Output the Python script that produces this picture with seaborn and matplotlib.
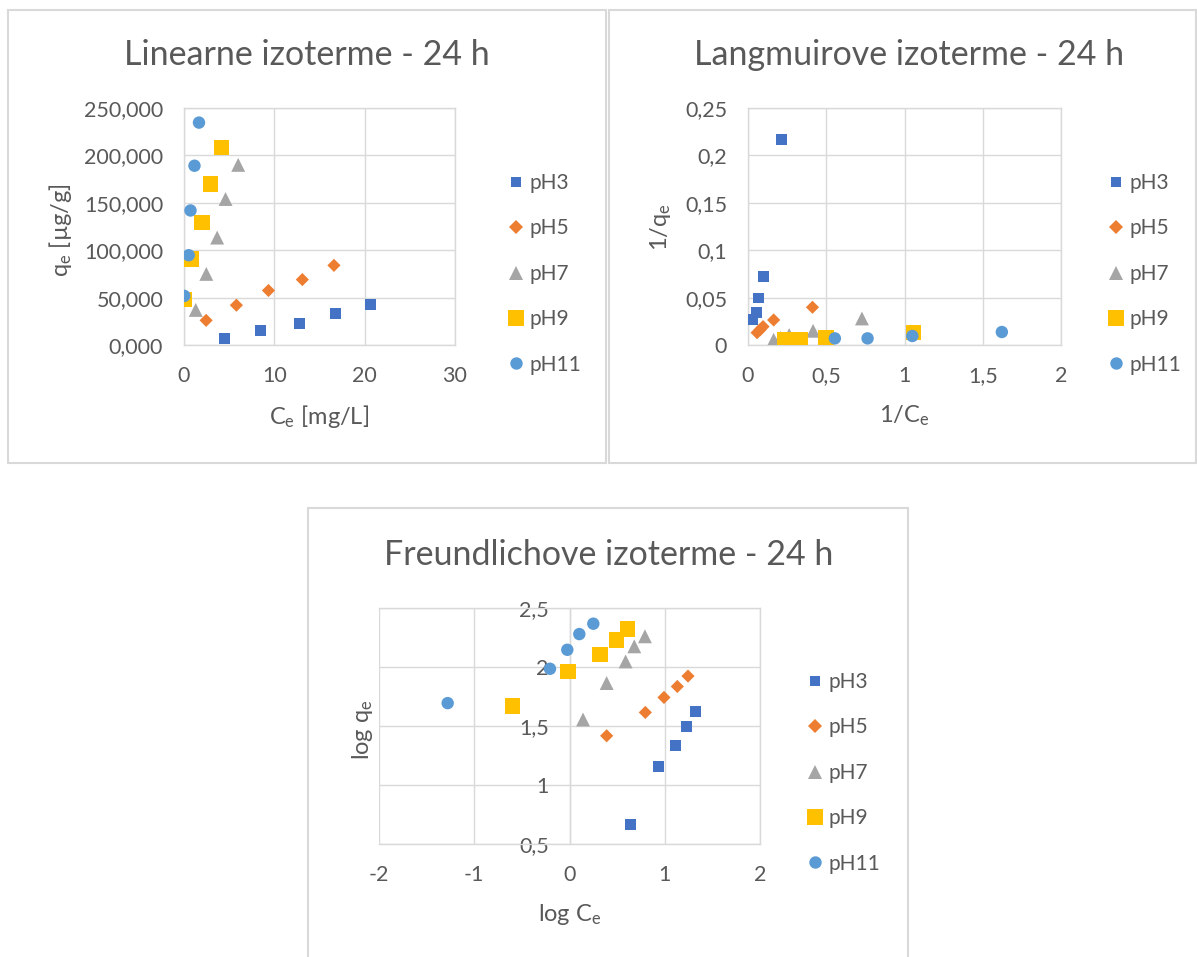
import matplotlib
matplotlib.use("Agg")
import matplotlib.pyplot as plt
import seaborn as sns
import pandas as pd
from matplotlib.lines import Line2D
from matplotlib.patches import Rectangle
from matplotlib.ticker import FuncFormatter, MultipleLocator

# ==========================================================
# Data
# ==========================================================

series = ["pH3", "pH5", "pH7", "pH9", "pH11"]

# Linearne izoterme: Ce [mg/L] vs qe [ug/g]
ce_ph3 = [4.5, 8.5, 12.8, 16.8, 20.6]
ce_ph5 = [2.45, 5.8, 9.35, 13.1, 16.6]
ce_ph7 = [1.3, 2.47, 3.67, 4.6, 6.0]
ce_ph9 = [0.08, 0.78, 2.0, 2.95, 4.13]
ce_ph11 = [0.03, 0.52, 0.72, 1.16, 1.66]
qe_ph3 = [6.5, 15.5, 22.5, 33.5, 42.7]
qe_ph5 = [26.0, 42.0, 57.5, 69.0, 84.0]
qe_ph7 = [37.0, 75.0, 113.3, 154.0, 190.0]
qe_ph9 = [48.1, 90.8, 129.4, 170.0, 208.5]
qe_ph11 = [51.8, 94.7, 141.9, 189.1, 234.6]

# Langmuirove izoterme: 1/Ce vs 1/qe
inv_ce_ph3 = [0.032, 0.053, 0.066, 0.102, 0.216]
inv_ce_ph5 = [0.058, 0.077, 0.096, 0.164, 0.412]
inv_ce_ph7 = [0.164, 0.207, 0.263, 0.416, 0.728]
inv_ce_ph9 = [0.235, 0.331, 0.497, 1.057]
inv_ce_ph11 = [0.555, 0.764, 1.05, 1.622]
inv_qe_ph3 = [0.027, 0.034, 0.0496, 0.0722, 0.2165]
inv_qe_ph5 = [0.013, 0.016, 0.0194, 0.0264, 0.0398]
inv_qe_ph7 = [0.0055, 0.0075, 0.0105, 0.015, 0.028]
inv_qe_ph9 = [0.006, 0.006, 0.0081, 0.013]
inv_qe_ph11 = [0.007, 0.007, 0.0095, 0.0137]

# Freundlichove izoterme: log Ce vs log qe
log_ce_ph3 = [0.645, 0.939, 1.117, 1.229, 1.32]
log_ce_ph5 = [0.39, 0.796, 0.992, 1.132, 1.244]
log_ce_ph7 = [0.142, 0.39, 0.589, 0.68, 0.792]
log_ce_ph9 = [-0.597, -0.016, 0.32, 0.495, 0.611]
log_ce_ph11 = [-1.279, -0.205, -0.023, 0.103, 0.25]
log_qe_ph3 = [0.664, 1.153, 1.334, 1.499, 1.623]
log_qe_ph5 = [1.417, 1.615, 1.742, 1.835, 1.923]
log_qe_ph7 = [1.555, 1.864, 2.047, 2.175, 2.26]
log_qe_ph9 = [1.671, 1.96, 2.107, 2.231, 2.322]
log_qe_ph11 = [1.694, 1.985, 2.146, 2.279, 2.367]

# ==========================================================
# Style
# ==========================================================

colors = ["#4472C4", "#ED7D31", "#A5A5A5", "#FFC000", "#5B9BD5"]
markers = ["s", "D", "^", "s", "o"]
marker_sizes = [62, 45, 100, 125, 80]

sns.set_theme(style="white")
plt.rcParams["font.family"] = ["Lato", "DejaVu Sans"]
plt.rcParams["mathtext.default"] = "regular"

text_color = "#595959"
grid_color = "#D9D9D9"
W, H = 1197, 957

fig = plt.figure(figsize=(W / 100, H / 100), dpi=100)


def px_rect(x0, y0, x1, y1):
    # figure-fraction rectangle from pixel box (top-left origin)
    return [x0 / W, 1 - y1 / H, (x1 - x0) / W, (y1 - y0) / H]


def make_frame(xs, ys):
    rows = []
    for name, xv, yv in zip(series, xs, ys):
        for a, b in zip(xv, yv):
            rows.append({"x": a, "y": b, "series": name})
    return pd.DataFrame(rows)


def comma(fmt):
    return FuncFormatter(lambda v, p: fmt.format(v).replace(".", ","))


def draw_panel(box, xs, ys, xlim, ylim, xstep, ystep, xfmt, yfmt):
    ax = fig.add_axes(px_rect(*box))
    df = make_frame(xs, ys)
    sns.scatterplot(
        data=df, x="x", y="y",
        hue="series", style="series", size="series",
        palette=dict(zip(series, colors)),
        markers=dict(zip(series, markers)),
        sizes=dict(zip(series, marker_sizes)),
        linewidth=0, legend=False, ax=ax, zorder=3,
    )
    ax.set_xlim(*xlim)
    ax.set_ylim(*ylim)
    ax.xaxis.set_major_locator(MultipleLocator(xstep))
    ax.yaxis.set_major_locator(MultipleLocator(ystep))
    ax.xaxis.set_major_formatter(comma(xfmt))
    ax.yaxis.set_major_formatter(comma(yfmt))
    ax.grid(True, color=grid_color, lw=1.0)
    ax.set_axisbelow(True)
    for s in ax.spines.values():
        s.set_color(grid_color)
        s.set_linewidth(1.0)
    ax.tick_params(length=0, colors=text_color, labelsize=15.5, pad=15)
    ax.set_facecolor("white")
    return ax


def axis_labels(ax, xlabel, ylabel, xpos, ypos):
    ax.set_xlabel(xlabel, fontsize=17, color=text_color)
    ax.set_ylabel(ylabel, fontsize=17, color=text_color)
    ax.xaxis.set_label_coords(*xpos)
    ax.yaxis.set_label_coords(*ypos)
    ax.xaxis.label.set_va("center")
    ax.yaxis.label.set_va("center")


def add_legend(ax, left_px, top_px):
    handles = [
        Line2D([], [], linestyle="none", marker=m, color=c,
               markersize=(s ** 0.5), markeredgewidth=0)
        for m, c, s in zip(markers, colors, marker_sizes)
    ]
    leg = ax.legend(
        handles, series, loc="upper left",
        bbox_to_anchor=(left_px / W, 1 - top_px / H),
        bbox_transform=fig.transFigure,
        frameon=False, borderpad=0, borderaxespad=0,
        fontsize=15, handlelength=0.75, handletextpad=0.3,
        labelspacing=1.22,
    )
    for t in leg.get_texts():
        t.set_color(text_color)


# panel borders
for x0, y0, x1, y1 in [(8, 10, 606, 463), (609, 10, 1196, 463), (308, 508, 908, 962)]:
    fig.add_artist(Rectangle((x0 / W, 1 - y1 / H), (x1 - x0) / W, (y1 - y0) / H,
                             transform=fig.transFigure, fill=False,
                             ec=grid_color, lw=1.5))

# ==========================================================
# Linearne izoterme
# ==========================================================

ax1 = draw_panel((184, 108, 455, 345),
                 [ce_ph3, ce_ph5, ce_ph7, ce_ph9, ce_ph11],
                 [qe_ph3, qe_ph5, qe_ph7, qe_ph9, qe_ph11],
                 (0, 30), (0, 250), 10, 50, "{:g}", "{:.3f}")
axis_labels(ax1, "C$_e$ [mg/L]", "q$_e$ [µg/g]", (0.5, -0.30), (-0.454, 0.485))
add_legend(ax1, 508, 173)
fig.text(307 / W, 1 - 55 / H, "Linearne izoterme - 24 h",
         ha="center", va="center", fontsize=24.5, color=text_color)

# ==========================================================
# Langmuirove izoterme
# ==========================================================

ax2 = draw_panel((748, 108, 1061, 345),
                 [inv_ce_ph3, inv_ce_ph5, inv_ce_ph7, inv_ce_ph9, inv_ce_ph11],
                 [inv_qe_ph3, inv_qe_ph5, inv_qe_ph7, inv_qe_ph9, inv_qe_ph11],
                 (0, 2), (0, 0.25), 0.5, 0.05, "{:g}", "{:g}")
axis_labels(ax2, "1/C$_e$", "1/q$_e$", (0.5, -0.30), (-0.278, 0.498))
add_legend(ax2, 1108, 173)
fig.text(909 / W, 1 - 55 / H, "Langmuirove izoterme - 24 h",
         ha="center", va="center", fontsize=24.5, color=text_color)

# ==========================================================
# Freundlichove izoterme
# ==========================================================

ax3 = draw_panel((379, 608, 760, 844),
                 [log_ce_ph3, log_ce_ph5, log_ce_ph7, log_ce_ph9, log_ce_ph11],
                 [log_qe_ph3, log_qe_ph5, log_qe_ph7, log_qe_ph9, log_qe_ph11],
                 (-2, 2), (0.5, 2.5), 1, 0.5, "{:g}", "{:g}")
ax3.spines["left"].set_position(("data", 0))
axis_labels(ax3, "log C$_e$", "log q$_e$", (0.5, -0.30), (-0.042, 0.483))
add_legend(ax3, 807, 672)
fig.text(609 / W, 1 - 555 / H, "Freundlichove izoterme - 24 h",
         ha="center", va="center", fontsize=24.5, color=text_color)

fig.savefig("out.png", dpi=100, facecolor="white")
